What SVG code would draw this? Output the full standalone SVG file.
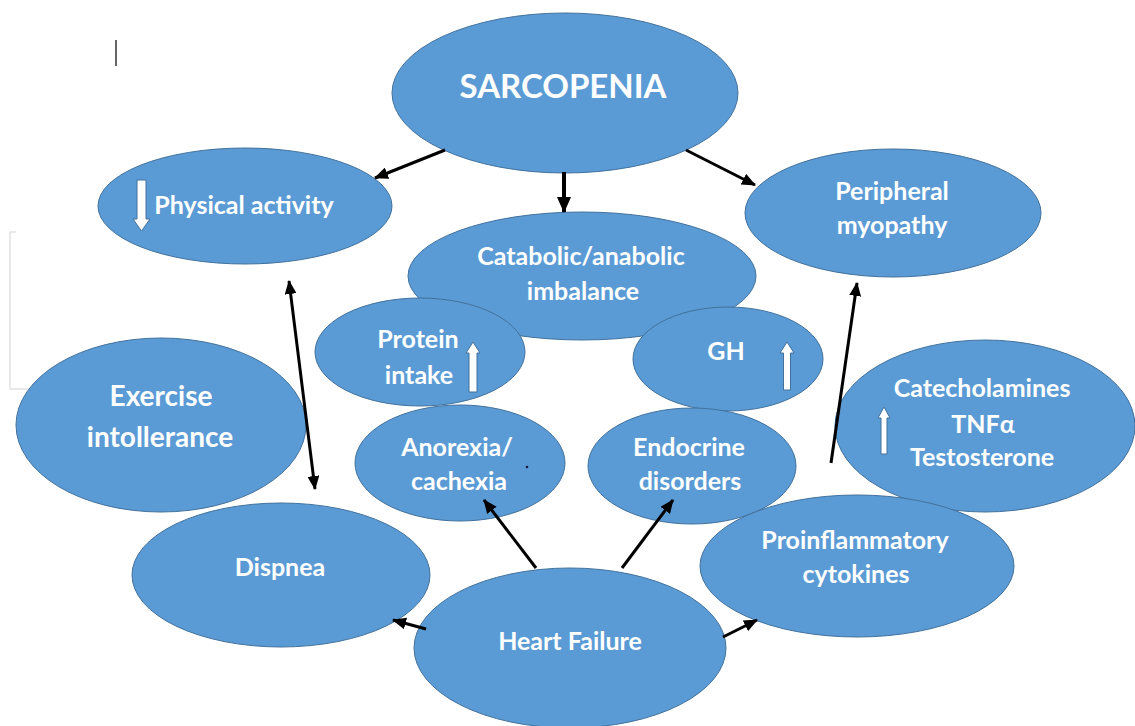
<svg xmlns="http://www.w3.org/2000/svg" width="1135" height="726" viewBox="0 0 1135 726">
<style>
.n{fill:#5b9bd5;stroke:#41719c;stroke-width:1}
.t{font-family:Lato,"Liberation Sans",sans-serif;font-weight:bold;fill:#ffffff;text-anchor:middle;font-size:25px}
.c{stroke:#000;stroke-width:3;fill:none;marker-end:url(#ah)}
.w{fill:#ffffff;stroke:#41719c;stroke-width:1}
</style>
<defs>
<marker id="ah" viewBox="0 0 14 12" refX="13" refY="6" markerWidth="14" markerHeight="12" markerUnits="userSpaceOnUse" orient="auto-start-reverse">
<path d="M0,0 L14,6 L0,12 Z" fill="#000"/>
</marker>
<marker id="ahb" viewBox="0 0 16 14" refX="15" refY="7" markerWidth="16" markerHeight="14" markerUnits="userSpaceOnUse" orient="auto">
<path d="M0,0 L16,7 L0,14 Z" fill="#000"/>
</marker>
</defs>
<rect width="1135" height="726" fill="#ffffff"/>
<path d="M16,232 H10 V389 H100" fill="none" stroke="#e2e2e2" stroke-width="1.5"/>
<line x1="116" y1="40" x2="116" y2="66" stroke="#333" stroke-width="1.5"/>

<g id="sarcopenia"><ellipse class="n" cx="565" cy="93" rx="173" ry="80"/><text class="t" x="563" y="98" style="font-size:33px">SARCOPENIA</text></g>
<g id="physical-activity"><ellipse class="n" cx="245" cy="206" rx="147" ry="58"/><path class="w" d="M137,180 H146 V219 H150 L141.5,231 L133,219 H137 Z"/><text class="t" x="244" y="214">Physical activity</text></g>
<g id="peripheral-myopathy"><ellipse class="n" cx="893" cy="213" rx="148" ry="64"/><text class="t" x="892" y="200">Peripheral</text><text class="t" x="892" y="234">myopathy</text></g>
<g id="catabolic"><ellipse class="n" cx="582" cy="276" rx="174" ry="64"/><text class="t" x="581" y="265">Catabolic/anabolic</text><text class="t" x="583" y="300">imbalance</text></g>
<g id="protein-intake"><ellipse class="n" cx="420" cy="352" rx="105" ry="54"/><text class="t" x="418" y="348">Protein</text><text class="t" x="419" y="384">intake</text><path class="w" d="M473,342 L480,353 H477 V392 H469 V353 H466 Z"/></g>
<g id="gh"><ellipse class="n" cx="728" cy="359" rx="95" ry="52"/><text class="t" x="726" y="360">GH</text><path class="w" d="M787,342 L794,353 H790.5 V390 H783.5 V353 H780 Z"/></g>
<g id="exercise-intollerance"><ellipse class="n" cx="161" cy="425" rx="145" ry="87"/><text class="t" x="161" y="406" style="font-size:28px">Exercise</text><text class="t" x="160" y="447" style="font-size:28px">intollerance</text></g>
<g id="anorexia"><ellipse class="n" cx="460" cy="463" rx="105" ry="58"/><text class="t" x="457" y="456">Anorexia/</text><text class="t" x="459" y="490">cachexia</text><circle cx="527" cy="467" r="1.3" fill="#1a1a4a"/></g>
<g id="endocrine"><ellipse class="n" cx="692" cy="466" rx="104" ry="58"/><text class="t" x="689" y="456">Endocrine</text><text class="t" x="690" y="490">disorders</text></g>
<g id="catecholamines"><ellipse class="n" cx="985" cy="426" rx="150" ry="86"/><path class="w" d="M884,407 L890,418 H887 V454 H881 V418 H878 Z"/><text class="t" x="982" y="397">Catecholamines</text><text class="t" x="983" y="433">TNFα</text><text class="t" x="982" y="466">Testosterone</text></g>
<g id="dispnea"><ellipse class="n" cx="281" cy="575" rx="149" ry="72"/><text class="t" x="280" y="576">Dispnea</text></g>
<g id="proinflammatory"><ellipse class="n" cx="857" cy="566" rx="157" ry="71"/><text class="t" x="855" y="549">Proinflammatory</text><text class="t" x="856" y="583">cytokines</text></g>
<g id="heart-failure"><ellipse class="n" cx="570" cy="648" rx="156" ry="80"/><text class="t" x="570" y="650">Heart Failure</text></g>

<g id="connectors">
<line class="c" x1="445" y1="150" x2="375" y2="178"/>
<line x1="564" y1="172" x2="564" y2="212" stroke="#000" stroke-width="4" marker-end="url(#ahb)"/>
<line class="c" x1="686" y1="150" x2="755" y2="185"/>
<line class="c" x1="289" y1="281" x2="315" y2="489" style="marker-start:url(#ah)"/>
<line class="c" x1="831" y1="463" x2="857" y2="283"/>
<line class="c" x1="536" y1="568" x2="484" y2="500"/>
<line class="c" x1="622" y1="568" x2="673" y2="500"/>
<line class="c" x1="426" y1="629" x2="393" y2="620"/>
<line class="c" x1="723" y1="637" x2="757" y2="620"/>
</g>
</svg>
